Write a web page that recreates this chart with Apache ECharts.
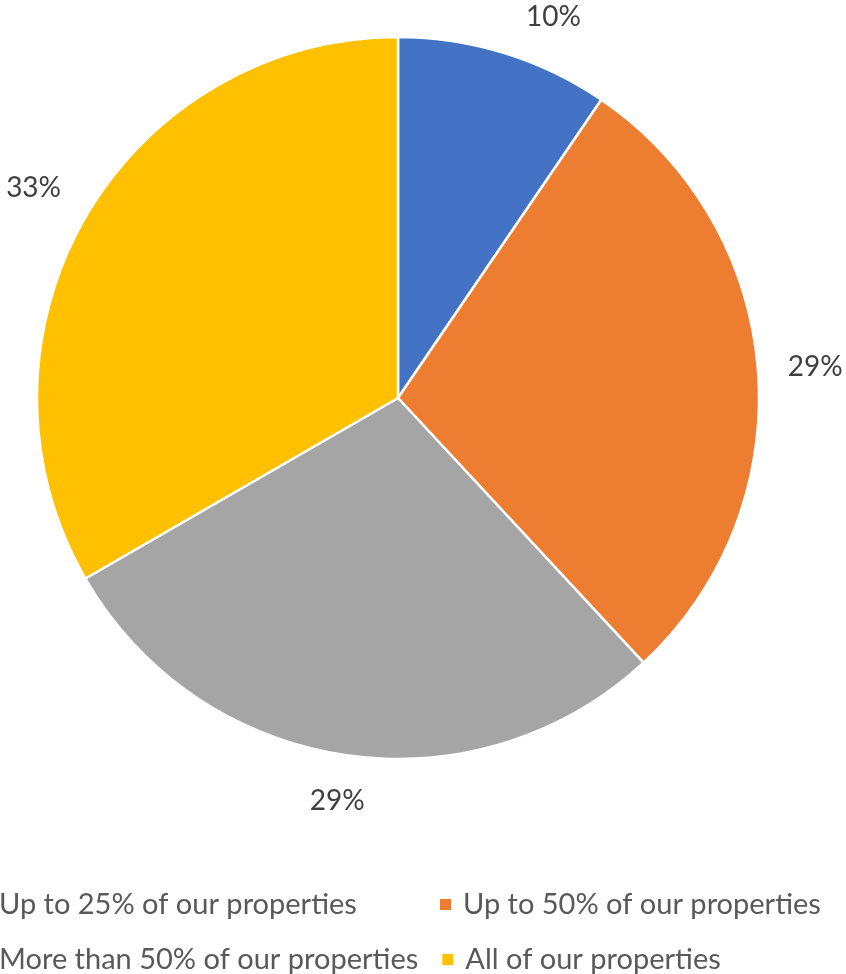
<!DOCTYPE html>
<html>
<head>
<meta charset="utf-8">
<script src="https://cdn.jsdelivr.net/npm/echarts@6/dist/echarts.min.js"></script>
<style>
  html, body { margin: 0; padding: 0; background: #fff; }
  #chart { width: 846px; height: 974px; }
</style>
</head>
<body>
<div id="chart"></div>
<script>
// Share of properties covered, by response group
const categories = [
  'Up to 25% of our properties',
  'Up to 50% of our properties',
  'More than 50% of our properties',
  'All of our properties'
];
const counts = [2, 6, 6, 7];
const colors = ['#4472C4', '#ED7D31', '#A5A5A5', '#FFC000'];

const CX = 398, CY = 398, R = 361;
const LABEL_GAP = 29;     // space between pie edge and the nearest side of a label
const LABEL_MIN_Y = 17;   // labels never rise above this line
const total = counts.reduce((a, b) => a + b, 0);

// mid-angle of each slice, measured clockwise from 12 o'clock
const midAngles = [];
let acc = 0;
counts.forEach(v => {
  midAngles.push((acc + v / 2) / total * 2 * Math.PI);
  acc += v;
});

const chart = echarts.init(document.getElementById('chart'), null, { renderer: 'canvas' });
chart.setOption({
  animation: false,
  color: colors,
  legend: {
    left: -26,
    top: 888,
    width: 1000,
    padding: 0,
    itemWidth: 13,
    itemHeight: 13,
    itemGap: 22,
    icon: 'rect',
    data: categories,
    textStyle: {
      fontFamily: 'Lato',
      fontSize: 29,
      color: '#595959',
      width: 417,
      lineHeight: 33,
      padding: [0, 0, 0, 6]
    }
  },
  series: [{
    type: 'pie',
    center: [CX, CY],
    radius: R,
    startAngle: 90,
    clockwise: true,
    avoidLabelOverlap: false,
    itemStyle: { borderColor: '#fff', borderWidth: 2.5 },
    label: {
      show: true,
      position: 'outside',
      formatter: p => Math.round(p.value / total * 100) + '%',
      fontFamily: 'Lato',
      fontSize: 28,
      color: '#404040'
    },
    labelLine: { show: false },
    labelLayout: p => {
      const a = midAngles[p.dataIndex];
      const s = Math.sin(a), c = Math.cos(a);
      const w = p.labelRect.width, h = p.labelRect.height;
      const d = R + LABEL_GAP + Math.abs(s) * w / 2 + Math.abs(c) * h / 2;
      let x = CX + d * s;
      let y = CY - d * c;
      if (y < LABEL_MIN_Y) {
        // slide along the label circle until the label fits below the top line
        y = LABEL_MIN_Y;
        x = CX + Math.sign(s) * Math.sqrt(d * d - (CY - y) * (CY - y));
      }
      return { x, y, align: 'center', verticalAlign: 'middle' };
    },
    data: categories.map((name, i) => ({ name, value: counts[i] }))
  }]
});
</script>
</body>
</html>
